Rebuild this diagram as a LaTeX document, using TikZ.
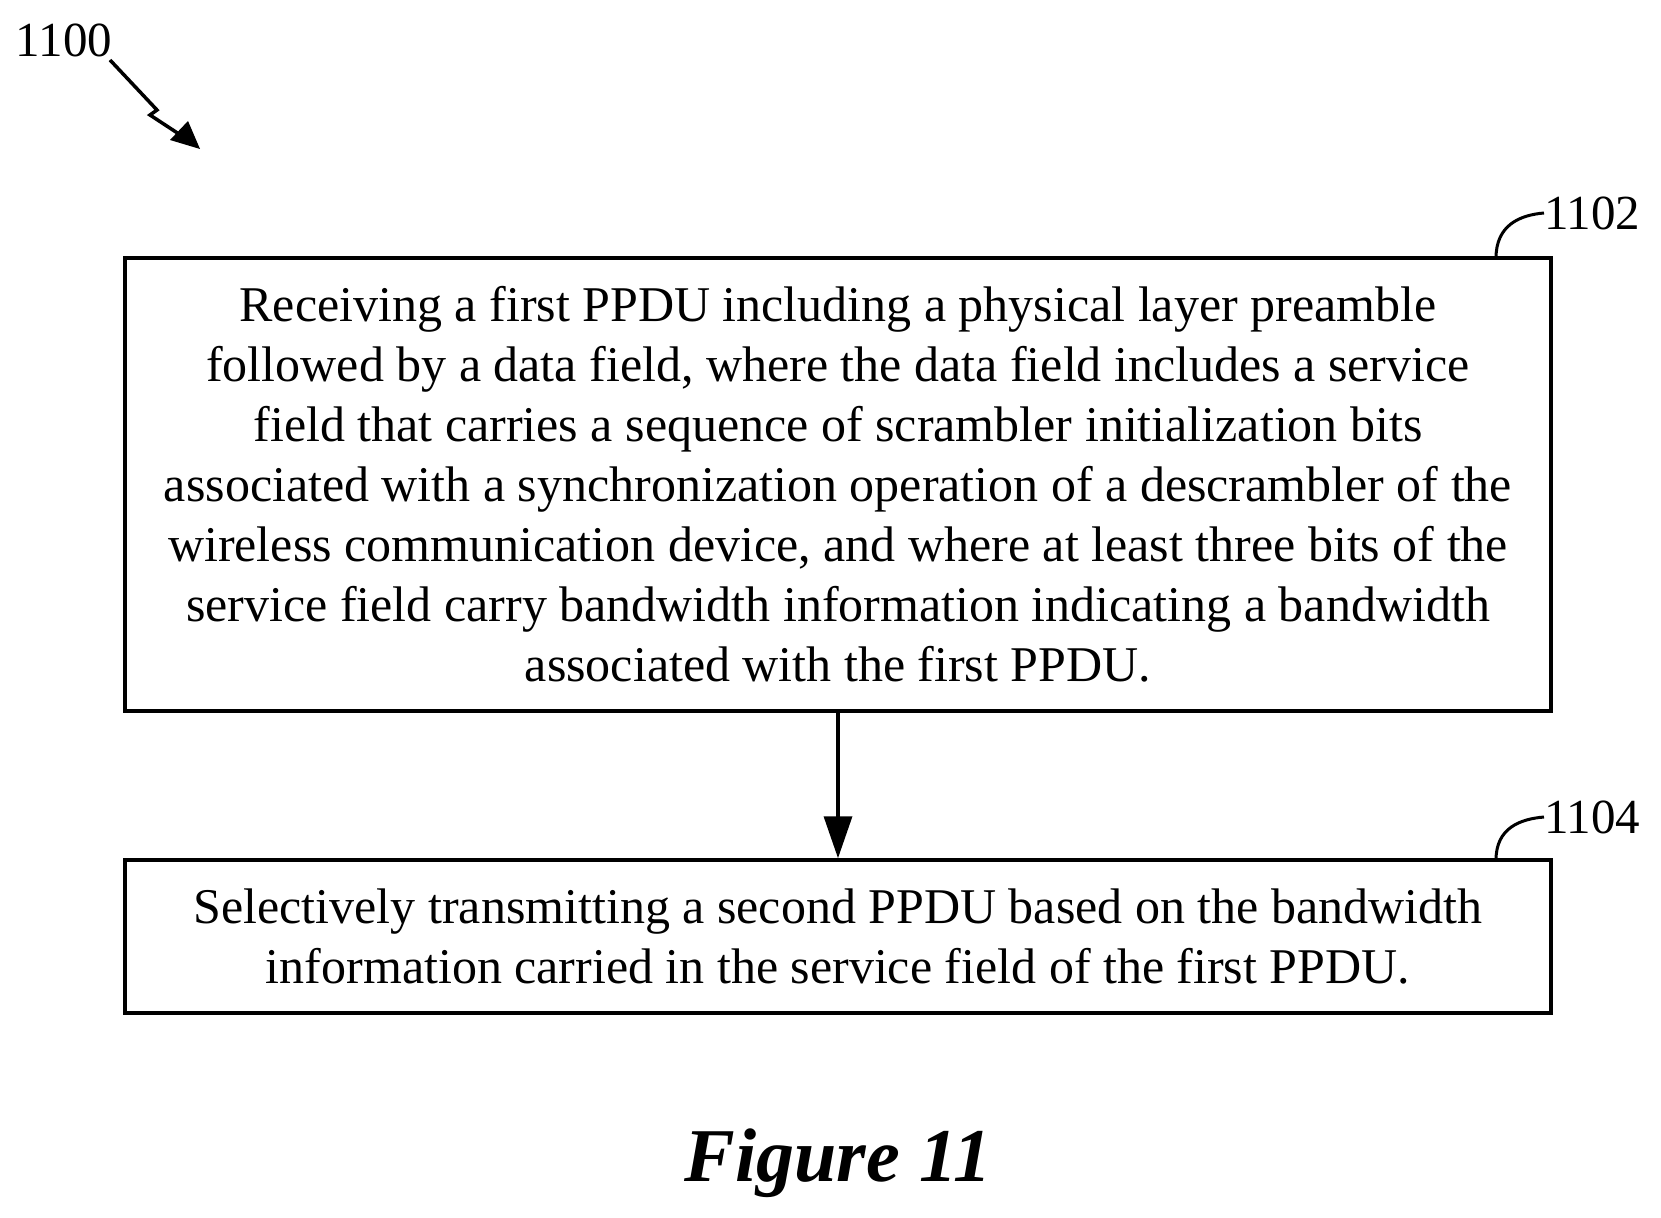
\documentclass[tikz,border=0pt]{standalone}
\usepackage{fontspec}
\setmainfont{Liberation Serif}
\usetikzlibrary{arrows.meta}
\begin{document}
\begin{tikzpicture}[x=1pt,y=-1pt,
  box/.style={draw,line width=3.5pt,minimum width=1426pt,align=center,font=\fontsize{50}{60}\selectfont,inner sep=0pt},
  lab/.style={font=\fontsize{49}{50}\selectfont,inner sep=0pt},
  lead/.style={line width=3pt}]
\useasboundingbox (0,0) rectangle (1661,1217);
\node[box,minimum height=453pt] (b1) at (838,484.5) {Receiving a first PPDU including a physical layer preamble\\followed by a data field, where the data field includes a service\\field that carries a sequence of scrambler initialization bits\\associated with a synchronization operation of a descrambler of the\\wireless communication device, and where at least three bits of the\\service field carry bandwidth information indicating a bandwidth\\associated with the first PPDU.};
\node[box,minimum height=153pt] (b2) at (838,936.5) {Selectively transmitting a second PPDU based on the bandwidth\\information carried in the service field of the first PPDU.};
\draw[line width=3.5pt,-{Triangle[length=42pt,width=28pt]}] (b1.south) -- (b2.north);
\node[lab,anchor=west] (l1) at (1544,213) {1102};
\node[lab,anchor=west] (l2) at (1544,817) {1104};
\coordinate (c1) at (1496,258);
\coordinate (c2) at (1496,860);
\draw[lead] (c1) .. controls (1496,225) and (1520,215) .. (l1.west);
\draw[lead] (c2) .. controls (1496,828) and (1520,819) .. (l2.west);
\node[lab] (l0) at (64,40) {1100};
\coordinate (a0) at (110,60);
\coordinate (a1) at (200,149);
\draw[line width=3.5pt] (a0) -- (157,110) -- (150,115) -- (182,136);
\fill (a1) -- (170,140) -- (188,121) -- cycle;
\node[font=\bfseries\itshape\fontsize{76}{80}\selectfont] (fig) at (838,1163) {Figure 11};
\end{tikzpicture}
\end{document}
